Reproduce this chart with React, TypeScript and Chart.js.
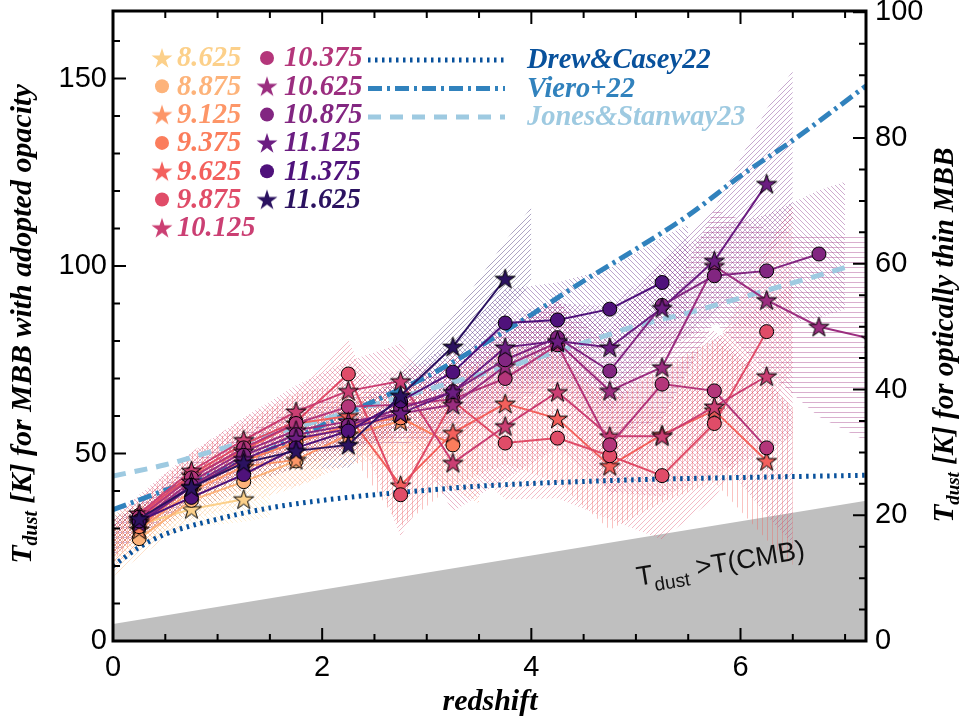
import React, { useEffect, useRef } from 'react';
import { Chart, registerables } from 'chart.js';

Chart.register(...registerables);

// ---------------- data ----------------
const zBins = [0.25, 0.75, 1.25, 1.75, 2.25, 2.75, 3.25, 3.75, 4.25, 4.75, 5.25, 5.75, 6.25, 6.75, 7.25];

const massLabels = ['8.625', '8.875', '9.125', '9.375', '9.625', '9.875', '10.125', '10.375', '10.625', '10.875', '11.125', '11.375', '11.625'];
const massColors = ['#fcd08a', '#fdb37a', '#fd9668', '#fb7d5c', '#f3605c', '#e04c68', '#cb3f73', '#b4367a', '#9b2d7f', '#822681', '#6b1d81', '#4f127b', '#2b1260'];
const massMarkers = ['star', 'circle', 'star', 'circle', 'star', 'circle', 'star', 'circle', 'star', 'circle', 'star', 'circle', 'star'];
const massHatch = ['\\', '/', '\\', '/', '|', '/', '\\', '/', '-', '\\', '/', '\\', '/'];

const t8625 = [31.0, 35.2, 37.8];
const t8875 = [27.3, 37.5, 42.5, 48.0];
const t9125 = [29.7, 40.0, 46.5, 48.3, 55.0, 58.6];
const t9375 = [30.5, 41.5, 48.0, 53.0, 57.5, 59.5, 52.3];
const t9625 = [32.5, 44.0, 51.0, 58.0, 60.0, 41.5, 55.5, 63.3, 59.3, 46.7, 55.0, 61.5, 48.0];
const t9875 = [33.5, 44.5, 52.5, 58.5, 71.2, 39.0, 64.0, 52.8, 54.1, 49.4, 44.1, 58.0, 82.5];
const t10125 = [34.0, 45.4, 53.6, 61.2, 66.7, 69.3, 47.5, 57.3, 66.4, 54.6, 54.6, 62.5, 70.6];
const t10375 = [33.0, 43.5, 51.5, 58.0, 62.5, 63.0, 64.5, 70.0, 79.0, 52.3, 68.5, 66.7, 51.5];
const t10625 = [32.0, 42.5, 50.5, 56.2, 58.5, 60.7, 63.0, 73.3, 79.6, 66.7, 73.0, 100.0, 90.9, 83.8, 80.6];
const t10875 = [32.0, 41.5, 49.5, 55.0, 57.5, 62.0, 66.5, 75.0, 80.9, 72.0, 89.5, 97.4, 98.7, 103.2];
const t11125 = [31.5, 41.0, 48.5, 54.0, 56.5, 60.7, 66.4, 78.3, 80.0, 78.3, 88.8, 101.4, 121.9];
const t11375 = [32.0, 38.3, 44.4, 51.5, 56.0, 64.0, 71.7, 84.8, 85.6, 88.5, 95.6];
const t11625 = [32.6, 41.0, 47.5, 50.7, 52.3, 65.4, 78.5, 96.6];
const tdustSeries = [t8625, t8875, t9125, t9375, t9625, t9875, t10125, t10375, t10625, t10875, t11125, t11375, t11625];

const e8625 = [5, 5, 6];
const e8875 = [5, 5, 6, 7];
const e9125 = [5, 5, 6, 7, 8, 9];
const e9375 = [5, 5, 6, 7, 8, 10, 12];
const e9625 = [5, 6, 7, 8, 9, 11, 14, 16, 17, 17, 18, 19, 21];
const e9875 = [5, 6, 7, 8, 9, 11, 14, 15, 16, 17, 17, 20, 22];
const e10125 = [5, 5, 6, 7, 8, 10, 13, 14, 15, 15, 16, 18, 20];
const e10375 = [4, 5, 6, 7, 8, 9, 11, 12, 13, 14, 15, 16, 18];
const e10625 = [4, 5, 5, 6, 7, 8, 9, 10, 11, 12, 14, 15, 19, 24, 28];
const e10875 = [4, 4, 5, 6, 6, 7, 8, 9, 10, 11, 12, 13, 15, 17];
const e11125 = [4, 4, 5, 5, 6, 7, 8, 9, 10, 11, 12, 14, 20];
const e11375 = [4, 4, 4, 5, 6, 7, 8, 9, 10, 11, 12];
const e11625 = [4, 4, 5, 5, 6, 7, 8, 10];
const tdustErrors = [e8625, e8875, e9125, e9375, e9625, e9875, e10125, e10375, e10625, e10875, e11125, e11375, e11625];

const drewZ = [0, 0.25, 0.5, 1, 1.5, 2, 2.5, 3, 3.5, 4, 5, 6, 7.2];
const drewT = [20, 25, 28.5, 32.5, 35.5, 37.5, 39, 40.2, 41.3, 42, 43, 43.6, 44.2];
const vieroZ = [0, 0.5, 1, 1.5, 2, 2.5, 3, 3.5, 4, 4.5, 5, 5.5, 6, 6.5, 7.2];
const vieroT = [35, 40.2, 45, 51, 57.5, 64, 70.5, 78.5, 87, 96, 104.5, 113.5, 124, 133.5, 148];
const jonesZ = [0, 0.5, 1, 1.5, 2, 2.5, 3, 3.5, 4, 4.5, 5, 5.5, 6, 6.5, 7.05];
const jonesT = [44, 47, 51, 55, 59, 63, 67, 71, 75, 79.5, 84, 87.5, 91.5, 95.5, 100];
const cmbZ = [0, 7.2];
const cmbT = [2.7, 22.3];

const refLabels = ['Drew&Casey22', 'Viero+22', 'Jones&Stanway23'];
const refColors = ['#08519c', '#3182bd', '#9ecae1'];
const refDashes = [[2.5, 4.5], [14, 5, 3, 5], [13, 9]];

const xRange = [0, 7.2];
const yRange = [0, 168];
const y2Range = [0, 100.2];
const xTickLabels = [0, 2, 4, 6];
const yTickLabels = [0, 50, 100, 150];
const y2TickLabels = [0, 20, 40, 60, 80, 100];

// ---------------- helpers ----------------
const SERIF = "'Liberation Serif', 'DejaVu Serif', serif";
const SANS = "'Liberation Sans', Arial, sans-serif";

function makeStar(color: string, R: number, edge: boolean): HTMLCanvasElement {
  const c = document.createElement('canvas');
  const s = Math.ceil(2 * R + 4);
  c.width = s;
  c.height = s;
  const g = c.getContext('2d')!;
  g.translate(s / 2, s / 2 + R * 0.08);
  g.beginPath();
  for (let k = 0; k < 10; k++) {
    const ang = -Math.PI / 2 + (k * Math.PI) / 5;
    const r = k % 2 === 0 ? R : R * 0.382;
    const px = r * Math.cos(ang);
    const py = r * Math.sin(ang);
    if (k === 0) g.moveTo(px, py);
    else g.lineTo(px, py);
  }
  g.closePath();
  g.fillStyle = color;
  g.fill();
  if (edge) {
    g.strokeStyle = '#000';
    g.lineWidth = 1;
    g.stroke();
  }
  return c;
}

function makeHatch(ctx: CanvasRenderingContext2D, color: string, kind: string): CanvasPattern | string {
  const s = 5;
  const c = document.createElement('canvas');
  c.width = s;
  c.height = s;
  const g = c.getContext('2d')!;
  g.strokeStyle = color;
  g.globalAlpha = 0.55;
  g.lineWidth = 0.7;
  g.beginPath();
  if (kind === '/') {
    g.moveTo(0, s); g.lineTo(s, 0);
    g.moveTo(-1, 1); g.lineTo(1, -1);
    g.moveTo(s - 1, s + 1); g.lineTo(s + 1, s - 1);
  } else if (kind === '\\') {
    g.moveTo(0, 0); g.lineTo(s, s);
    g.moveTo(-1, s - 1); g.lineTo(1, s + 1);
    g.moveTo(s - 1, -1); g.lineTo(s + 1, 1);
  } else if (kind === '-') {
    g.moveTo(0, s / 2); g.lineTo(s, s / 2);
  } else {
    g.moveTo(s / 2, 0); g.lineTo(s / 2, s);
  }
  g.stroke();
  return ctx.createPattern(c, 'repeat') || color;
}

type Part = { text: string; size: number; dy: number };

function drawRich(ctx: CanvasRenderingContext2D, parts: Part[], style: string, family: string, color: string) {
  let w = 0;
  const widths: number[] = [];
  for (const p of parts) {
    ctx.font = `${style} ${p.size}px ${family}`;
    const m = ctx.measureText(p.text).width;
    widths.push(m);
    w += m;
  }
  let x = -w / 2;
  ctx.fillStyle = color;
  ctx.textBaseline = 'alphabetic';
  ctx.textAlign = 'left';
  parts.forEach((p, i) => {
    ctx.font = `${style} ${p.size}px ${family}`;
    ctx.fillText(p.text, x, p.dy);
    x += widths[i];
  });
}

const decorPlugin = {
  id: 'decor',
  afterDatasetsDraw(chart: any) {
    const ctx: CanvasRenderingContext2D = chart.ctx;
    const a = chart.chartArea;
    const sx = chart.scales.x;
    const sy = chart.scales.y;
    const sy2 = chart.scales.y2;

    // CMB label along the shaded edge
    const p0x = sx.getPixelForValue(cmbZ[0]);
    const p0y = sy2.getPixelForValue(cmbT[0]);
    const p1x = sx.getPixelForValue(cmbZ[1]);
    const p1y = sy2.getPixelForValue(cmbT[1]);
    const ang = Math.atan2(p1y - p0y, p1x - p0x);
    ctx.save();
    ctx.translate(722, 572);
    ctx.rotate(ang);
    drawRich(ctx, [
      { text: 'T', size: 27, dy: 0 },
      { text: 'dust', size: 19, dy: 8 },
      { text: ' >T(CMB)', size: 27, dy: 0 },
    ], 'normal', SANS, '#111');
    ctx.restore();

    // frame
    ctx.save();
    ctx.strokeStyle = '#000';
    ctx.lineWidth = 3;
    ctx.strokeRect(a.left, a.top, a.right - a.left, a.bottom - a.top);

    ctx.lineWidth = 2;
    ctx.beginPath();
    for (let v = 0; v <= 7.01; v += 0.5) {
      const px = sx.getPixelForValue(v);
      const major = Math.abs(v % 2) < 1e-6;
      const len = major ? 13 : 7;
      ctx.moveTo(px, a.bottom);
      ctx.lineTo(px, a.bottom - len);
      ctx.moveTo(px, a.top);
      ctx.lineTo(px, a.top + len);
    }
    for (let v = 10; v <= 160; v += 10) {
      const py = sy.getPixelForValue(v);
      const major = v % 50 === 0;
      const len = major ? 13 : 7;
      ctx.moveTo(a.left, py);
      ctx.lineTo(a.left + len, py);
    }
    for (let v = 5; v <= 100; v += 5) {
      const py = sy2.getPixelForValue(v);
      const major = v % 20 === 0;
      const len = major ? 13 : 7;
      ctx.moveTo(a.right, py);
      ctx.lineTo(a.right - len, py);
    }
    ctx.stroke();
    ctx.restore();
  },
  afterDraw(chart: any) {
    const ctx: CanvasRenderingContext2D = chart.ctx;
    ctx.save();
    // legend: mass bins
    const rowY = (i: number) => 58 + i * 28.3;
    massLabels.forEach((lab, i) => {
      const col = i < 7 ? 0 : 1;
      const row = i < 7 ? i : i - 7;
      const mx = col === 0 ? 162 : 267;
      const tx = col === 0 ? 177 : 284;
      const y = rowY(row);
      if (massMarkers[i] === 'star') {
        const st = makeStar(massColors[i], 11, false);
        ctx.drawImage(st, mx - st.width / 2, y - st.height / 2);
      } else {
        ctx.beginPath();
        ctx.arc(mx, y, 7, 0, Math.PI * 2);
        ctx.fillStyle = massColors[i];
        ctx.fill();
      }
      ctx.font = `italic bold 28.5px ${SERIF}`;
      ctx.fillStyle = massColors[i];
      ctx.textAlign = 'left';
      ctx.textBaseline = 'middle';
      ctx.fillText(lab, tx, y + 1);
    });
    // legend: reference curves
    refLabels.forEach((lab, i) => {
      const y = 60 + i * 28.5;
      ctx.save();
      ctx.strokeStyle = refColors[i];
      ctx.lineWidth = 5;
      ctx.setLineDash(refDashes[i]);
      ctx.beginPath();
      ctx.moveTo(368, y);
      ctx.lineTo(505, y);
      ctx.stroke();
      ctx.restore();
      ctx.font = `italic bold 28.5px ${SERIF}`;
      ctx.fillStyle = refColors[i];
      ctx.textAlign = 'left';
      ctx.textBaseline = 'middle';
      ctx.fillText(lab, 527, y + 1);
    });

    // axis titles
    ctx.save();
    ctx.translate(490, 710);
    drawRich(ctx, [{ text: 'redshift', size: 30, dy: 0 }], 'italic bold', SERIF, '#000');
    ctx.restore();

    ctx.save();
    ctx.translate(31, 324);
    ctx.rotate(-Math.PI / 2);
    drawRich(ctx, [
      { text: 'T', size: 30, dy: 0 },
      { text: 'dust', size: 20, dy: 6 },
      { text: ' [K] for MBB with adopted opacity', size: 30, dy: 0 },
    ], 'italic bold', SERIF, '#000');
    ctx.restore();

    ctx.save();
    ctx.translate(953, 335);
    ctx.rotate(-Math.PI / 2);
    drawRich(ctx, [
      { text: 'T', size: 29, dy: 0 },
      { text: 'dust', size: 19, dy: 6 },
      { text: ' [K] for optically thin MBB', size: 29, dy: 0 },
    ], 'italic bold', SERIF, '#000');
    ctx.restore();
    ctx.restore();
  },
};

export default function App() {
  const ref = useRef<HTMLCanvasElement | null>(null);

  useEffect(() => {
    document.body.style.margin = '0';
    const canvas = ref.current!;
    const ctx = canvas.getContext('2d')!;
    const datasets: any[] = [];

    // CMB shaded region (right axis units)
    datasets.push({
      data: cmbZ.map((z, i) => ({ x: z, y: cmbT[i] })),
      yAxisID: 'y2',
      borderWidth: 0,
      pointRadius: 0,
      fill: 'start',
      backgroundColor: '#bfbfbf',
      order: 100,
    });

    // hatched uncertainty bands
    tdustSeries.forEach((vals, i) => {
      const errs = tdustErrors[i];
      const n = vals.length;
      const zs = zBins.slice(0, n);
      const first = vals[0] - (vals[1] - vals[0]) / 2;
      const last = vals[n - 1] + (vals[n - 1] - vals[n - 2]) / 2;
      const bz = [zs[0] - 0.25, ...zs, zs[n - 1] + 0.25];
      const bv = [first, ...vals, last];
      const be = [errs[0], ...errs, errs[n - 1]];
      datasets.push({
        data: bz.map((z, k) => ({ x: z, y: bv[k] + be[k] })),
        borderWidth: 0,
        pointRadius: 0,
        fill: false,
        order: 50,
      });
      datasets.push({
        data: bz.map((z, k) => ({ x: z, y: bv[k] - be[k] })),
        borderWidth: 0,
        pointRadius: 0,
        fill: '-1',
        backgroundColor: makeHatch(ctx, massColors[i], massHatch[i]),
        order: 50,
      });
    });

    // reference curves
    const refSets = [
      { z: drewZ, t: drewT },
      { z: vieroZ, t: vieroT },
      { z: jonesZ, t: jonesT },
    ];
    refSets.forEach((r, i) => {
      datasets.push({
        data: r.z.map((z, k) => ({ x: z, y: r.t[k] })),
        borderColor: refColors[i],
        borderWidth: 5,
        borderDash: refDashes[i],
        borderCapStyle: 'butt',
        pointRadius: 0,
        fill: false,
        cubicInterpolationMode: 'monotone',
        order: 20,
      });
    });

    // data series
    tdustSeries.forEach((vals, i) => {
      const isStar = massMarkers[i] === 'star';
      datasets.push({
        data: vals.map((v, k) => ({ x: zBins[k], y: v })),
        borderColor: massColors[i],
        borderWidth: 2,
        backgroundColor: massColors[i],
        pointStyle: isStar ? makeStar(massColors[i], 10.5, true) : 'circle',
        pointRadius: isStar ? 10 : 7,
        pointBackgroundColor: massColors[i],
        pointBorderColor: '#000',
        pointBorderWidth: 1,
        fill: false,
        clip: 0,
        order: 12 - i,
      });
    });

    const noPad = (s: any) => {
      s.paddingTop = 0;
      s.paddingBottom = 0;
      s.paddingLeft = 0;
      s.paddingRight = 0;
    };
    const tickFont = { family: SANS, size: 29 };

    const chart = new Chart(canvas, {
      type: 'line',
      data: { datasets },
      options: {
        responsive: false,
        maintainAspectRatio: false,
        animation: false,
        events: [],
        layout: { padding: { top: 5, left: 0, right: 0, bottom: 0 } },
        plugins: {
          legend: { display: false },
          tooltip: { enabled: false },
          filler: { drawTime: 'beforeDatasetsDraw' },
        },
        scales: {
          x: {
            type: 'linear',
            min: xRange[0],
            max: xRange[1],
            grid: { display: false, drawTicks: false },
            border: { display: false },
            ticks: { padding: 10, color: '#000', font: tickFont, maxRotation: 0 },
            afterBuildTicks: (s: any) => { s.ticks = xTickLabels.map((v) => ({ value: v })); },
            afterFit: (s: any) => { s.height = 80; noPad(s); },
          },
          y: {
            type: 'linear',
            position: 'left',
            min: yRange[0],
            max: yRange[1],
            grid: { display: false, drawTicks: false },
            border: { display: false },
            ticks: { padding: 6, color: '#000', font: tickFont },
            afterBuildTicks: (s: any) => { s.ticks = yTickLabels.map((v) => ({ value: v })); },
            afterFit: (s: any) => { s.width = 113; noPad(s); },
          },
          y2: {
            type: 'linear',
            position: 'right',
            min: y2Range[0],
            max: y2Range[1],
            grid: { display: false, drawTicks: false },
            border: { display: false },
            ticks: { padding: 9, color: '#000', font: tickFont },
            afterBuildTicks: (s: any) => { s.ticks = y2TickLabels.map((v) => ({ value: v })); },
            afterFit: (s: any) => { s.width = 95; noPad(s); },
          },
        },
      },
      plugins: [decorPlugin],
    });

    return () => chart.destroy();
  }, []);

  return <canvas ref={ref} width={961} height={721} style={{ display: 'block' }} />;
}
